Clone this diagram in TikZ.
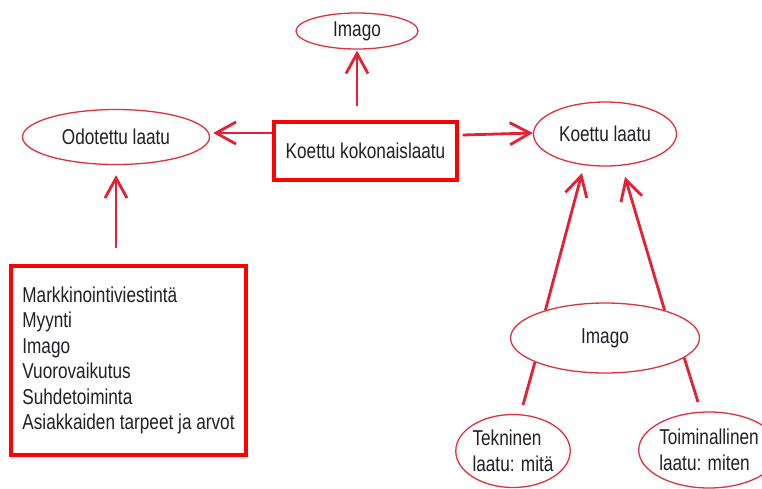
\documentclass[tikz,border=0pt]{standalone}
\usepackage{fontspec}
\setmainfont[FakeStretch=0.8]{Liberation Sans}
\usetikzlibrary{shapes.geometric,arrows.meta}
\definecolor{arrred}{RGB}{228,32,52}
\definecolor{ellred}{RGB}{222,50,62}
\definecolor{boxred}{RGB}{255,0,0}
\definecolor{txt}{RGB}{32,32,40}
\tikzset{
  ell/.style={ellipse, draw=ellred, line width=1.3pt, inner sep=0pt, text=txt, font=\fontsize{21.5}{25.5}\selectfont, align=left},
  rbox/.style={rectangle, draw=boxred, line width=3.2pt, inner sep=0pt, text=txt, font=\fontsize{21.5}{25.5}\selectfont},
  arr/.style={draw=arrred, line width=2.8pt, -{Straight Barb[length=20pt,width=22pt,line width=2.8pt]}},
  plain/.style={draw=arrred, line width=2.8pt}
}
\begin{document}
\begin{tikzpicture}[x=1pt,y=-1pt]
\path[use as bounding box, fill=white] (0,0) rectangle (762,488);
\node[ell, minimum width=122, minimum height=36] (imgtop) at (357,31) {Imago};
\node[rbox, minimum width=183, minimum height=58] (kok) at (365.5,151) {Koettu kokonaislaatu};
\node[ell, minimum width=187, minimum height=55] (odo) at (116,137) {Odotettu laatu};
\node[ell, minimum width=143, minimum height=64] (koe) at (605,134) {Koettu laatu};
\node[rbox, minimum width=235, minimum height=189, align=left, inner sep=0pt] (list) at (128.5,360.5)
  {Markkinointiviestintä\\Myynti\\Imago\\Vuorovaikutus\\Suhdetoiminta\\Asiakkaiden tarpeet ja arvot};
\node[ell, minimum width=189, minimum height=70] (img2) at (605,338) {Imago};
\node[ell, minimum width=110, minimum height=73] (tek) at (513,451) {Tekninen\\laatu: mitä};
\node[ell, minimum width=130, minimum height=76] (toi) at (709,450) {Toiminallinen\\laatu: miten};
% arrows
\draw[arr] ([yshift=14pt]kok.north -| imgtop.south) -- ([yshift=-1pt]imgtop.south);
\draw[arr] ([yshift=18pt]kok.west) -- ([xshift=3pt,yshift=4pt]odo.east);
\draw[arr] ([yshift=16pt,xshift=4pt]kok.east) -- ([yshift=1pt]koe.west);
\draw[arr] ([yshift=16pt]list.north -| odo.south) -- ([yshift=-10pt]odo.south);
\coordinate (t1) at (582,173);
\coordinate (t2) at (625,177);
\draw[arr] (img2.155) -- (t1);
\draw[arr] (img2.25) -- (t2);
\coordinate (b1) at (523,405);
\coordinate (b2) at (698,402);
\draw[plain] (img2.199) -- (b1);
\draw[plain] (img2.346) -- (b2);
\end{tikzpicture}
\end{document}
